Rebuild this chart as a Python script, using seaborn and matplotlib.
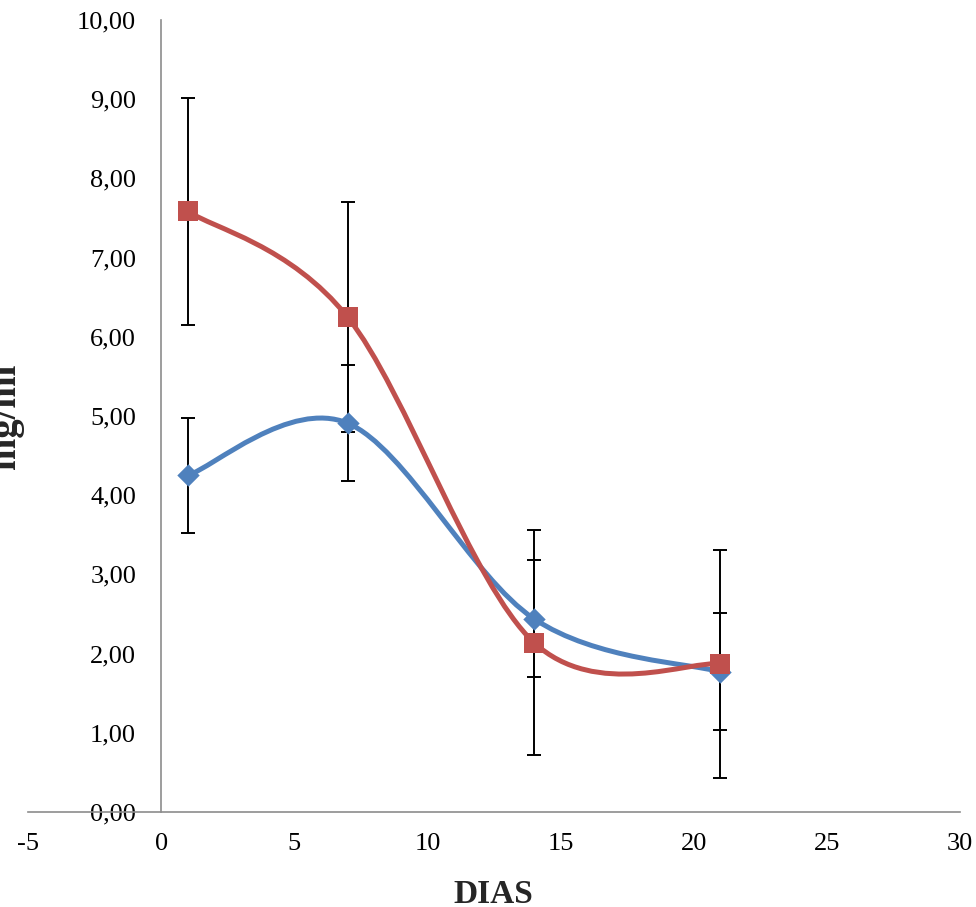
import numpy as np
import pandas as pd
import matplotlib
matplotlib.use("Agg")
import matplotlib.pyplot as plt
from matplotlib.path import Path
from matplotlib.patches import PathPatch
from matplotlib.ticker import FuncFormatter, MultipleLocator
import seaborn as sns

# ---- data ----
days = [1, 7, 14, 21]
blue_vals = [4.25, 4.91, 2.44, 1.77]
blue_err = [0.73, 0.73, 0.74, 0.74]
red_vals = [7.585, 6.25, 2.14, 1.87]
red_err = [1.435, 1.45, 1.42, 1.44]
x_label = "DIAS"
y_label = "mg/ml"

BLUE = "#4F81BD"
RED = "#C0504D"

sns.set_theme(style="white")
plt.rcParams["font.family"] = ["Liberation Serif", "DejaVu Serif"]

fig = plt.figure(figsize=(9.76, 9.07), dpi=100)
W, H = 976, 907
x_left, x_right = 28, 960
y_top, y_bot = 20, 812
ax = fig.add_axes([x_left / W, 1 - y_bot / H, (x_right - x_left) / W, (y_bot - y_top) / H])


def smooth_path(xs, ys):
    pts = np.column_stack([xs, ys]).astype(float)
    n = len(pts)
    verts = [pts[0]]
    codes = [Path.MOVETO]
    for i in range(n - 1):
        p0 = pts[i - 1] if i > 0 else pts[i]
        p1 = pts[i]
        p2 = pts[i + 1]
        p3 = pts[i + 2] if i + 2 < n else pts[i + 1]
        c1 = p1 + (p2 - p0) / 6.0
        c2 = p2 - (p3 - p1) / 6.0
        verts += [c1, c2, p2]
        codes += [Path.CURVE4] * 3
    return Path(verts, codes)


for vals, color in [(blue_vals, BLUE), (red_vals, RED)]:
    patch = PathPatch(smooth_path(days, vals), facecolor="none", edgecolor=color,
                      lw=3.6, transform=ax.transData, zorder=2, capstyle="round",
                      joinstyle="round")
    ax.add_patch(patch)

for vals, err in [(blue_vals, blue_err), (red_vals, red_err)]:
    ax.errorbar(days, vals, yerr=err, fmt="none", ecolor="black", elinewidth=1.4,
                capsize=4.7, capthick=1.4, zorder=3)

df = pd.DataFrame({
    "day": days + days,
    "val": blue_vals + red_vals,
    "serie": ["A"] * len(days) + ["B"] * len(days),
})
sns.scatterplot(data=df[df.serie == "A"], x="day", y="val", marker="D", s=130,
                color=BLUE, edgecolor=BLUE, linewidth=0, ax=ax, zorder=4, legend=False)
sns.scatterplot(data=df[df.serie == "B"], x="day", y="val", marker="s", s=200,
                color=RED, edgecolor=RED, linewidth=0, ax=ax, zorder=4, legend=False)

ax.set_xlim(-5, 30)
ax.set_ylim(0, 10)
ax.xaxis.set_major_locator(MultipleLocator(5))
ax.yaxis.set_major_locator(MultipleLocator(1))
ax.yaxis.set_major_formatter(FuncFormatter(lambda v, p: f"{v:.2f}".replace(".", ",")))
ax.xaxis.set_major_formatter(FuncFormatter(lambda v, p: f"{int(round(v))}"))

for s in ["top", "right"]:
    ax.spines[s].set_visible(False)
ax.spines["left"].set_position(("data", 0))
ax.spines["left"].set_color("#8c8c8c")
ax.spines["bottom"].set_color("#8c8c8c")
ax.spines["left"].set_linewidth(1.2)
ax.spines["bottom"].set_linewidth(1.2)
ax.tick_params(axis="both", length=0, labelsize=19, colors="black")
ax.tick_params(axis="y", pad=18)
ax.tick_params(axis="x", pad=15)
ax.set_xlabel("")
ax.set_ylabel("")
ax.grid(False)
ax.patch.set_alpha(0)

fig.text(493 / W, 1 - 903 / H, x_label, ha="center", va="baseline",
         fontsize=24, fontweight="bold")
fig.text(15 / W, 1 - 416 / H, y_label, rotation=90, rotation_mode="anchor",
         ha="center", va="baseline", fontsize=28, fontweight="bold")

fig.savefig("out.png", dpi=100)
